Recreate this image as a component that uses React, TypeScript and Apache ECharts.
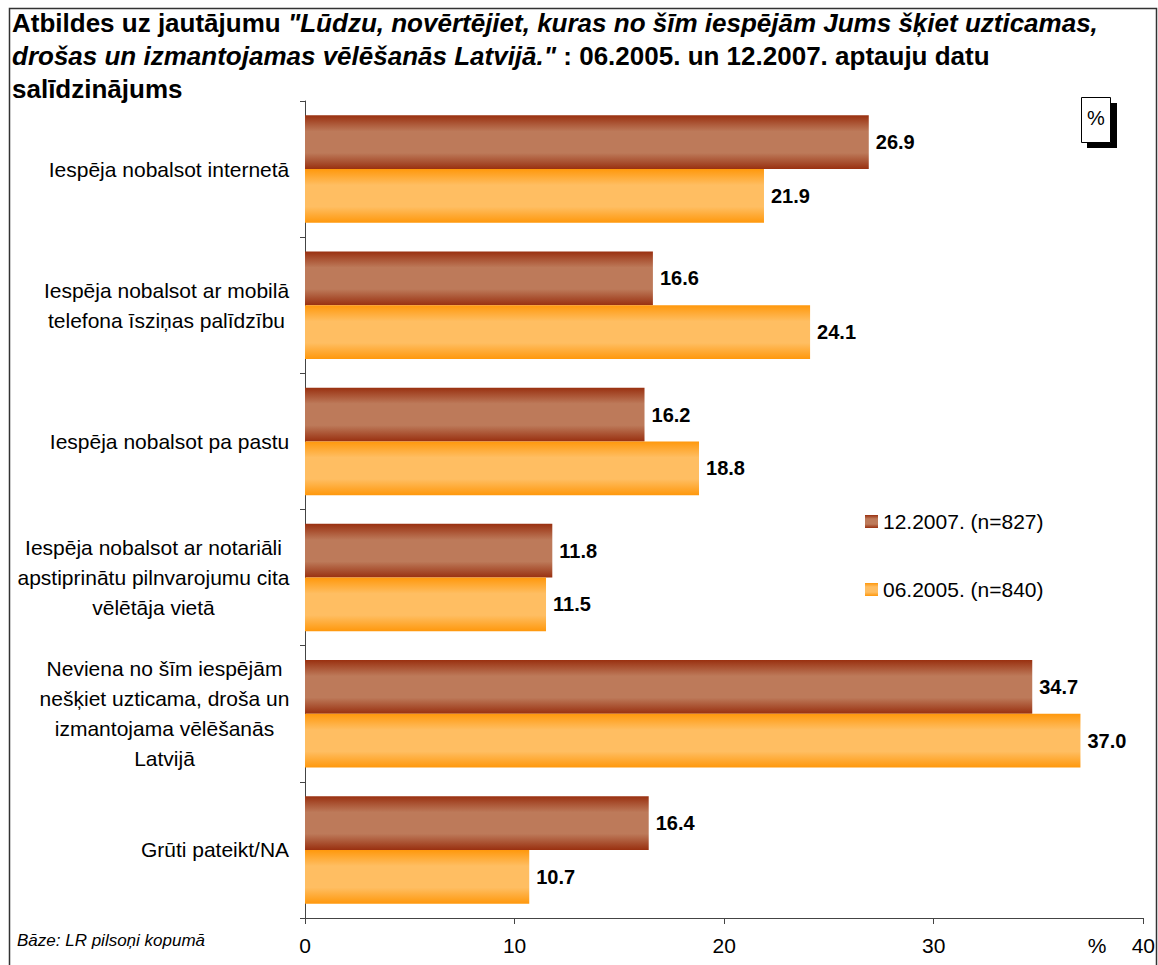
import React, { useEffect, useRef } from "react";
import * as echarts from "echarts";

const categories = [
  "Iespēja nobalsot internetā",
  "Iespēja nobalsot ar mobilā\ntelefona īsziņas palīdzību",
  "Iespēja nobalsot pa pastu",
  "Iespēja nobalsot ar notariāli\napstiprinātu pilnvarojumu cita\nvēlētāja vietā",
  "Neviena no šīm iespējām\nnešķiet uzticama, droša un\nizmantojama vēlēšanās\nLatvijā",
  "Grūti pateikt/NA",
];
const series2007Name = "12.2007. (n=827)";
const series2005Name = "06.2005. (n=840)";
const values2007 = [26.9, 16.6, 16.2, 11.8, 34.7, 16.4];
const values2005 = [21.9, 24.1, 18.8, 11.5, 37.0, 10.7];
const xTicks = { min: 0, max: 40, interval: 10 };

const FONT = "'Liberation Sans', Arial, sans-serif";
const CAT_SIZE = 21;

function measure(text: string, size: number): number {
  const c = document.createElement("canvas");
  const ctx = c.getContext("2d");
  if (!ctx) return text.length * size * 0.5;
  ctx.font = `${size}px 'Liberation Sans', Arial, sans-serif`;
  return ctx.measureText(text).width;
}

export default function App() {
  const ref = useRef<HTMLDivElement>(null);
  useEffect(() => {
    if (!ref.current) return;
    const chart = echarts.init(ref.current, undefined, { renderer: "svg" });

    const rich: Record<string, any> = {};
    categories.forEach((c, i) => {
      const w = Math.max(...c.split("\n").map((l) => measure(l, CAT_SIZE)));
      rich["w" + i] = {
        width: Math.ceil(w) + 1,
        align: "center",
        fontSize: CAT_SIZE,
        lineHeight: 30,
        fontFamily: FONT,
        color: "#000",
      };
    });

    const brown = new echarts.graphic.LinearGradient(0, 0, 0, 1, [
      { offset: 0, color: "#993010" },
      { offset: 0.3, color: "#bd7a5a" },
      { offset: 0.7, color: "#bd7a5a" },
      { offset: 1, color: "#993010" },
    ]);
    const orange = new echarts.graphic.LinearGradient(0, 0, 0, 1, [
      { offset: 0, color: "#ff980c" },
      { offset: 0.3, color: "#ffbe62" },
      { offset: 0.7, color: "#ffbe62" },
      { offset: 1, color: "#ff980c" },
    ]);

    const labelCfg = {
      show: true,
      position: "right" as const,
      distance: 7,
      fontSize: 20,
      fontWeight: "bold" as const,
      fontFamily: FONT,
      color: "#000",
      formatter: (p: any) => Number(p.value).toFixed(1),
    };

    chart.setOption({
      animation: false,
      backgroundColor: "#fff",
      grid: { left: 305, right: 11, top: 101, bottom: 47, containLabel: false },
      legend: {
        orient: "vertical",
        left: 860,
        top: 506,
        itemGap: 47,
        itemWidth: 13,
        itemHeight: 13,
        icon: "rect",
        textStyle: { fontSize: 21, fontFamily: FONT, color: "#000" },
        data: [series2007Name, series2005Name],
      },
      xAxis: {
        type: "value",
        min: xTicks.min,
        max: xTicks.max,
        interval: xTicks.interval,
        splitLine: { show: false },
        axisLine: { show: true, lineStyle: { color: "#444", width: 1 } },
        axisTick: { show: true, length: 6, lineStyle: { color: "#444" } },
        axisLabel: { fontSize: 21, fontFamily: FONT, color: "#000", margin: 17 },
      },
      yAxis: {
        type: "category",
        inverse: true,
        data: categories,
        axisLine: { show: true, lineStyle: { color: "#444", width: 1 } },
        axisTick: { show: true, length: 5, lineStyle: { color: "#444" } },
        axisLabel: {
          margin: 15,
          align: "right",
          formatter: (v: string, i: number) =>
            v
              .split("\n")
              .map((l) => `{w${i}|${l}}`)
              .join("\n"),
          rich,
        },
      },
      series: [
        {
          name: series2007Name,
          type: "bar",
          data: values2007,
          barGap: "0%",
          barCategoryGap: "21%",
          itemStyle: { color: brown },
          label: labelCfg,
        },
        {
          name: series2005Name,
          type: "bar",
          data: values2005,
          barGap: "0%",
          barCategoryGap: "21%",
          itemStyle: { color: orange },
          label: labelCfg,
        },
      ],
      graphic: [
        {
          type: "rect",
          shape: { x: 9.5, y: 8.5, width: 1147, height: 970 },
          style: { fill: "none", stroke: "#333", lineWidth: 1.5 },
          silent: true,
        },
        {
          type: "text",
          left: 12,
          top: 10,
          style: {
            text:
              "{b|Atbildes uz jautājumu }{i|\"Lūdzu, novērtējiet, kuras no šīm iespējām Jums šķiet uzticamas,}\n" +
              "{i|drošas un izmantojamas vēlēšanās Latvijā.\"}{b| : 06.2005. un 12.2007. aptauju datu}\n" +
              "{b|salīdzinājums}",
            rich: {
              b: { fontSize: 26, fontWeight: "bold", fontFamily: FONT, color: "#000", lineHeight: 33 },
              i: {
                fontSize: 26,
                fontWeight: "bold",
                fontStyle: "italic",
                fontFamily: FONT,
                color: "#000",
                lineHeight: 33,
              },
            },
          },
        },
        {
          type: "rect",
          shape: { x: 1087, y: 103, width: 30, height: 45 },
          style: { fill: "#000" },
        },
        {
          type: "rect",
          shape: { x: 1081.5, y: 97.5, width: 29, height: 45 },
          style: { fill: "#fff", stroke: "#000", lineWidth: 1 },
        },
        {
          type: "text",
          x: 1096,
          y: 118,
          style: {
            text: "%",
            fontSize: 20,
            fontFamily: FONT,
            fill: "#000",
            align: "center",
            verticalAlign: "middle",
          },
        },
        {
          type: "text",
          x: 1097,
          y: 945,
          style: {
            text: "%",
            fontSize: 21,
            fontFamily: FONT,
            fill: "#000",
            align: "center",
            verticalAlign: "middle",
          },
        },
        {
          type: "text",
          x: 17,
          y: 940,
          style: {
            text: "Bāze: LR pilsoņi kopumā",
            fontSize: 17,
            fontStyle: "italic",
            fontFamily: FONT,
            fill: "#000",
            align: "left",
            verticalAlign: "middle",
          },
        },
      ],
    });
    return () => chart.dispose();
  }, []);
  return (
    <div
      ref={ref}
      style={{ position: "absolute", left: 0, top: 0, width: 1158, height: 965 }}
    />
  );
}
